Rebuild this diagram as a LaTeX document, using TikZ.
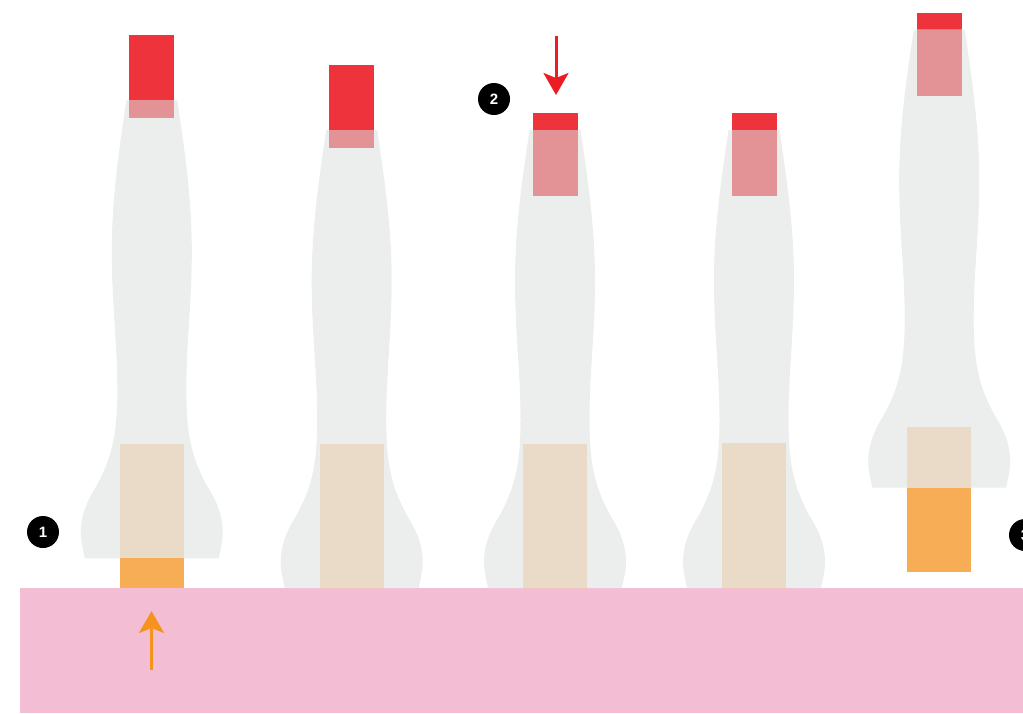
\documentclass[tikz,border=0pt]{standalone}
\usepackage{fontspec}
\setsansfont{Liberation Sans}
\usetikzlibrary{arrows.meta}

\definecolor{capred}{RGB}{239,51,61}
\definecolor{capfade}{RGB}{227,147,150}
\definecolor{footorange}{RGB}{247,173,85}
\definecolor{footbeige}{RGB}{234,219,200}
\definecolor{bodygray}{RGB}{236,237,237}
\definecolor{groundpink}{RGB}{243,189,211}
\definecolor{pushorange}{RGB}{246,147,30}
\definecolor{pushred}{RGB}{237,28,36}

\begin{document}
\begin{tikzpicture}[x=1pt, y=-1pt,
		num/.style={circle, fill=black, text=white, minimum size=32pt, inner sep=0pt,
				font=\sffamily\bfseries\fontsize{15}{15}\selectfont},
		push/.style={line width=3pt, -{Stealth[length=22pt, width=25pt, inset=5pt]}}]

	\clip (0,0) rectangle (1023,713);

	% Draw the ground
	\fill[groundpink] (20,588) rectangle (1023,713);

	% Draw each stem: centre, top of body, top of cap, top and bottom of foot
	\foreach \x/\bodytop/\captop/\foottop/\footlow in {
			151.8/100.4/35.4/444/588,
			351.7/130/65/444/588,
			555/130/113.3/444/588,
			754/130/113.3/443/588,
			939.2/29.5/12.6/427/572
		} {
			\fill[capred] (\x-22.5,\captop) rectangle (\x+22.5,\bodytop);
			\begin{scope}[shift={(\x,\bodytop)}]
				\fill[bodygray] (-25.5,0) -- (25.5,0)
					.. controls (32,45) and (40,95) .. (40,150)
					.. controls (40,205) and (34.5,240) .. (34.5,290)
					.. controls (34.5,340) and (42,360) .. (55,385)
					.. controls (68,405) and (71,420) .. (71,432)
					.. controls (71,442) and (68,452) .. (67,458)
					-- (-67,458)
					.. controls (-68,452) and (-71,442) .. (-71,432)
					.. controls (-71,420) and (-68,405) .. (-55,385)
					.. controls (-42,360) and (-34.5,340) .. (-34.5,290)
					.. controls (-34.5,240) and (-40,205) .. (-40,150)
					.. controls (-40,95) and (-32,45) .. cycle;
			\end{scope}
			\fill[capfade] (\x-22.5,\bodytop) rectangle (\x+22.5,\captop+83);
			\fill[footbeige] (\x-32,\foottop) rectangle (\x+32,\bodytop+458);
			\fill[footorange] (\x-32,\bodytop+458) rectangle (\x+32,\footlow);
		}

	% Numbered markers
	\node[num] (n1) at (43,532) {1};
	\node[num] (n2) at (494,99) {2};
	\node[num] (n3) at (1025,535) {3};

	% Pushing arrows
	\coordinate (up0) at (151.5,670);
	\coordinate (up1) at (151.5,611);
	\coordinate (down0) at (556,36);
	\coordinate (down1) at (556,95);
	\draw[push, pushorange] (up0) -- (up1);
	\draw[push, pushred] (down0) -- (down1);

\end{tikzpicture}
\end{document}
